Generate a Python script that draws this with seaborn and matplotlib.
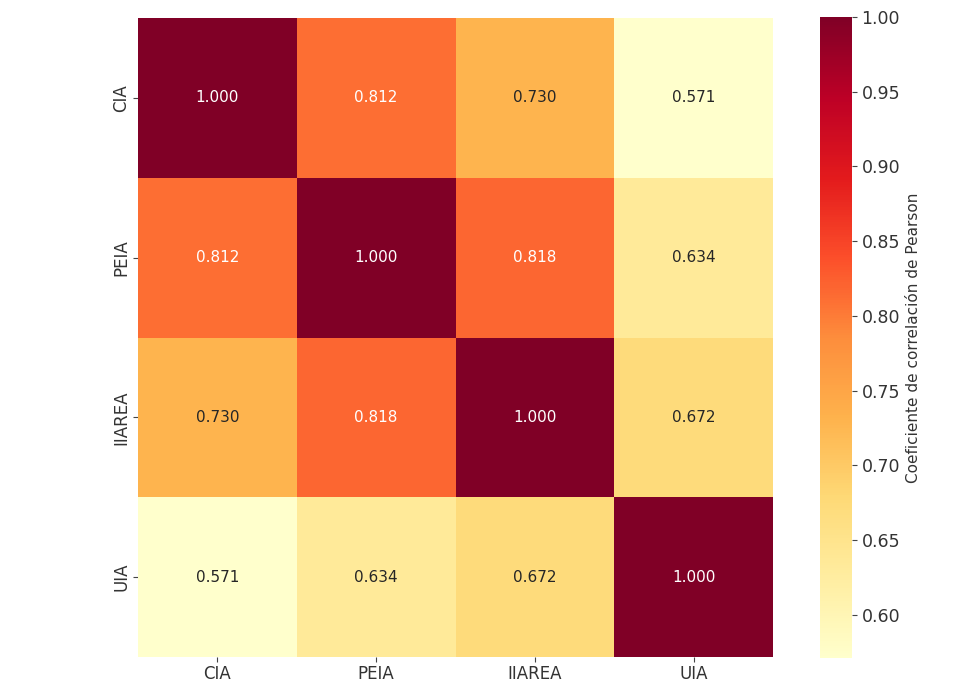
import numpy as np
import pandas as pd
import matplotlib
matplotlib.use("Agg")
import matplotlib.pyplot as plt
import seaborn as sns

# Pearson correlation matrix between the indices
labels = ["CIA", "PEIA", "IIAREA", "UIA"]
row_cia = [1.000, 0.812, 0.730, 0.571]
row_peia = [0.812, 1.000, 0.818, 0.634]
row_iiarea = [0.730, 0.818, 1.000, 0.672]
row_uia = [0.571, 0.634, 0.672, 1.000]
cbar_ticks = [0.60, 0.65, 0.70, 0.75, 0.80, 0.85, 0.90, 0.95, 1.00]

corr = pd.DataFrame([row_cia, row_peia, row_iiarea, row_uia],
                    index=labels, columns=labels)

sns.set_theme(style="ticks")
plt.rcParams["font.family"] = ["DejaVu Sans"]

fig = plt.figure(figsize=(9.62, 6.82), dpi=100)
ax = fig.add_axes([0.1435, 0.0365, 0.660, 0.937])
cax = fig.add_axes([0.8525, 0.035, 0.033, 0.940])

sns.heatmap(corr, ax=ax, cbar_ax=cax, cmap="YlOrRd", annot=True, fmt=".3f",
            annot_kws={"fontsize": 11},
            cbar_kws={"label": "Coeficiente de correlación de Pearson"})

ax.tick_params(axis="both", labelsize=12, length=3.5, width=0.8,
               color="#444444", labelcolor="#333333", pad=2)
ax.set_yticklabels(labels, rotation=90, va="center")
ax.set_xticklabels(labels, rotation=0)
ax.set_xlabel("")
ax.set_ylabel("")

cax.set_yticks(cbar_ticks)
cax.set_yticklabels([f"{v:.2f}" for v in cbar_ticks])
cax.tick_params(labelsize=12.5, length=3.5, width=0.8,
                color="#444444", labelcolor="#333333")
cax.yaxis.label.set_size(11)
cax.yaxis.label.set_color("#333333")
for s in cax.spines.values():
    s.set_visible(False)

fig.savefig("out.png", dpi=100)
